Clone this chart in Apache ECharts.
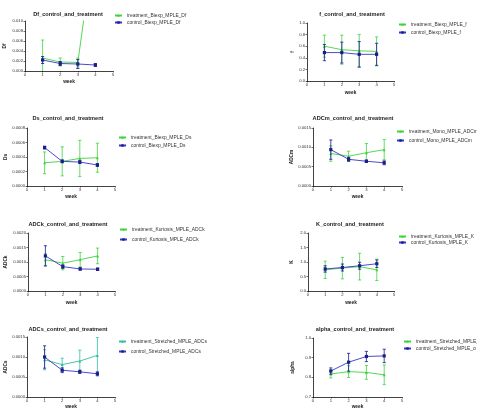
<!DOCTYPE html>
<html><head><meta charset="utf-8">
<script src="https://cdn.jsdelivr.net/npm/echarts/dist/echarts.min.js"></script>
<style>html,body{margin:0;padding:0;background:#fff}#c{width:477px;height:410px}</style>
</head><body><div id="c"></div>
<script>
const weeks = [1, 2, 3, 4];
// Df
const dfTreat = [0.0026, 0.0018, 0.0017, 0.027];
const dfTreatErr = [0.0036, 0.0008, 0.0009, 0];
const dfCtrl = [0.0022, 0.0015, 0.0014, 0.0012];
const dfCtrlErr = [0.0007, 0.0004, 0.0009, 0.0003];
// f
const fTreat = [0.60, 0.54, 0.52, 0.51];
const fTreatErr = [0.19, 0.25, 0.28, 0.25];
const fCtrl = [0.49, 0.49, 0.46, 0.46];
const fCtrlErr = [0.14, 0.18, 0.22, 0.19];
// Ds
const dsTreat = [0.00032, 0.00034, 0.00038, 0.00039];
const dsTreatErr = [0.00015, 0.00020, 0.00025, 0.00020];
const dsCtrl = [0.00053, 0.00034, 0.00033, 0.00029];
const dsCtrlErr = [0.00002, 0.00002, 0.00002, 0.00002];
// ADCm
const adcmTreat = [0.00084, 0.00077, 0.00086, 0.00094];
const adcmTreatErr = [0.00020, 0.00013, 0.00024, 0.00026];
const adcmCtrl = [0.00094, 0.00069, 0.00064, 0.00060];
const adcmCtrlErr = [0.00025, 0.00005, 0.00003, 0.00005];
// ADCk
const adckTreat = [0.00108, 0.00096, 0.00108, 0.00121];
const adckTreatErr = [0.00020, 0.00023, 0.00025, 0.00027];
const adckCtrl = [0.00121, 0.00084, 0.00076, 0.00075];
const adckCtrlErr = [0.00035, 0.00006, 0.00004, 0.00004];
// K
const kTreat = [0.73, 0.79, 0.84, 0.73];
const kTreatErr = [0.30, 0.37, 0.46, 0.37];
const kCtrl = [0.76, 0.81, 0.87, 0.94];
const kCtrlErr = [0.11, 0.12, 0.12, 0.13];
// ADCs
const adcsTreat = [0.00093, 0.00081, 0.00090, 0.00104];
const adcsTreatErr = [0.00025, 0.00016, 0.00027, 0.00045];
const adcsCtrl = [0.00100, 0.00067, 0.00063, 0.00058];
const adcsCtrlErr = [0.00028, 0.00006, 0.00004, 0.00005];
// alpha
const alphaTreat = [0.817, 0.829, 0.825, 0.813];
const alphaTreatErr = [0.020, 0.030, 0.035, 0.050];
const alphaCtrl = [0.832, 0.877, 0.906, 0.909];
const alphaCtrlErr = [0.016, 0.045, 0.026, 0.034];

const titles = ['Df_control_and_treatment','f_control_and_treatment','Ds_control_and_treatment','ADCm_control_and_treatment',
  'ADCk_control_and_treatment','K_control_and_treatment','ADCs_control_and_treatment','alpha_control_and_treatment'];
const yNames = ['Df','f','Ds','ADCm','ADCk','K','ADCs','alpha'];
const treatNames = ['treatment_Biexp_MPLE_Df','treatment_Biexp_MPLE_f','treatment_Biexp_MPLE_Ds','treatment_Mono_MPLE_ADCm',
  'treatment_Kurtosis_MPLE_ADCk','treatment_Kurtosis_MPLE_K','treatment_Stretched_MPLE_ADCs','treatment_Stretched_MPLE_\u03b1'];
const ctrlNames = ['control_Biexp_MPLE_Df','control_Biexp_MPLE_f','control_Biexp_MPLE_Ds','control_Mono_MPLE_ADCm',
  'control_Kurtosis_MPLE_ADCk','control_Kurtosis_MPLE_K','control_Stretched_MPLE_ADCs','control_Stretched_MPLE_\u03b1'];
const yMin = [0, 0, 0, 0, 0, 0, 0, 0.7];
const yMax = [0.010, 1.0, 0.0008, 0.0015, 0.0020, 2.0, 0.0015, 1.0];
const yStep = [0.002, 0.2, 0.0002, 0.0005, 0.0005, 0.5, 0.0005, 0.1];
const yDec = [3, 1, 4, 4, 4, 1, 4, 1];
const treatData = [dfTreat, fTreat, dsTreat, adcmTreat, adckTreat, kTreat, adcsTreat, alphaTreat];
const treatErr = [dfTreatErr, fTreatErr, dsTreatErr, adcmTreatErr, adckTreatErr, kTreatErr, adcsTreatErr, alphaTreatErr];
const ctrlData = [dfCtrl, fCtrl, dsCtrl, adcmCtrl, adckCtrl, kCtrl, adcsCtrl, alphaCtrl];
const ctrlErr = [dfCtrlErr, fCtrlErr, dsCtrlErr, adcmCtrlErr, adckCtrlErr, kCtrlErr, adcsCtrlErr, alphaCtrlErr];

// layout (pixels)
const grids = [
  {left:25, top:21, width:88, height:50},
  {left:307, top:23, width:87, height:58},
  {left:27, top:128, width:88, height:58},
  {left:313, top:128, width:89, height:58},
  {left:28, top:233, width:87, height:58},
  {left:308, top:233, width:86, height:58},
  {left:27, top:337, width:88, height:60},
  {left:313, top:338, width:89, height:59}
];
const titlePos = [[68,14],[352,14],[68,118],[353,118],[68,224],[350,224],[68,329],[355,329]];
const legendPos = [[114,13,2],[398,22,3],[118,135,3],[396,129,4],[119,227,5],[398,234,1],[118,339,5],[403,339,2]];
const yNameGap = [18, 12, 19, 19, 20, 14, 19, 18];
const xNameGap = [8, 9, 8, 8, 9, 9, 7, 7];

const GREEN = '#3fd43f';
const TEAL = '#33c0a0';
const BLUE = '#3535c8';
const DBLUE = '#1c1c8c';
const FONT = 'Liberation Sans, Arial, sans-serif';

function errRender(color){
  return function(params, api){
    const x = api.value(0), y = api.value(1), e = api.value(2);
    const hi = api.coord([x, y + e]), lo = api.coord([x, y - e]);
    const c = 1.6;
    const st = {stroke: color, lineWidth: 0.8};
    return {type:'group', children:[
      {type:'line', shape:{x1:hi[0], y1:hi[1], x2:lo[0], y2:lo[1]}, style:st},
      {type:'line', shape:{x1:hi[0]-c, y1:hi[1], x2:hi[0]+c, y2:hi[1]}, style:st},
      {type:'line', shape:{x1:lo[0]-c, y1:lo[1], x2:lo[0]+c, y2:lo[1]}, style:st}
    ]};
  };
}

const option = {animation:false, backgroundColor:'#fff', textStyle:{fontFamily:FONT},
  grid:[], xAxis:[], yAxis:[], series:[], legend:[], graphic:[]};

for (let i = 0; i < 8; i++) {
  const g = grids[i];
  const tColor = i === 6 ? TEAL : GREEN;
  option.grid.push({left:g.left, top:g.top, width:g.width, height:g.height, containLabel:false});
  option.xAxis.push({gridIndex:i, type:'value', min:0, max:5, interval:1,
    name:'week', nameLocation:'middle', nameGap:xNameGap[i],
    nameTextStyle:{fontSize:4.8, fontWeight:'bold', color:'#222', fontFamily:FONT},
    axisLine:{onZero:false, lineStyle:{color:'#111', width:0.8}},
    axisTick:{show:true, length:1.5, lineStyle:{color:'#111', width:0.6}},
    axisLabel:{fontSize:4.2, margin:2, color:'#333', fontFamily:FONT},
    splitLine:{show:false}});
  option.yAxis.push({gridIndex:i, type:'value', min:yMin[i], max:yMax[i], interval:yStep[i],
    name:yNames[i], nameLocation:'middle', nameRotate:90, nameGap:yNameGap[i],
    nameTextStyle:{fontSize:4.8, fontWeight:'bold', color:'#222', fontFamily:FONT},
    axisLine:{show:true, onZero:false, lineStyle:{color:'#111', width:0.8}},
    axisTick:{show:true, length:1.5, lineStyle:{color:'#111', width:0.6}},
    axisLabel:{fontSize:4.2, margin:2, color:'#333', fontFamily:FONT,
      formatter: (v) => v.toFixed(yDec[i])},
    splitLine:{show:false}});
  option.series.push({type:'custom', xAxisIndex:i, yAxisIndex:i, clip:true, z:2,
    renderItem: errRender(tColor), data: weeks.map((w,k)=>[w, treatData[i][k], treatErr[i][k]])});
  option.series.push({type:'line', name:treatNames[i], xAxisIndex:i, yAxisIndex:i, clip:true, z:3,
    symbol:'triangle', symbolSize:3, lineStyle:{color:tColor, width:0.9}, itemStyle:{color:tColor},
    data: weeks.map((w,k)=>[w, treatData[i][k]])});
  option.series.push({type:'custom', xAxisIndex:i, yAxisIndex:i, clip:true, z:4,
    renderItem: errRender(DBLUE), data: weeks.map((w,k)=>[w, ctrlData[i][k], ctrlErr[i][k]])});
  option.series.push({type:'line', name:ctrlNames[i], xAxisIndex:i, yAxisIndex:i, clip:true, z:5,
    symbol:'rect', symbolSize:3.2, lineStyle:{color:BLUE, width:0.9}, itemStyle:{color:DBLUE},
    data: weeks.map((w,k)=>[w, ctrlData[i][k]])});
  const lp = legendPos[i];
  option.legend.push({data:[treatNames[i], ctrlNames[i]], left:lp[0], top:lp[1], orient:'vertical',
    itemWidth:7, itemHeight:3, itemGap:lp[2], padding:0, selectedMode:false,
    textStyle:{fontSize:4.9, color:'#333', fontFamily:FONT, lineHeight:5}});
  option.graphic.push({type:'text', x:titlePos[i][0], y:titlePos[i][1],
    style:{text:titles[i], textAlign:'center', textVerticalAlign:'middle',
      font:'bold 5.6px Liberation Sans, Arial, sans-serif', fill:'#222'}});
}

const chart = echarts.init(document.getElementById('c'), null, {renderer:'canvas'});
chart.setOption(option);
</script>
</body></html>
